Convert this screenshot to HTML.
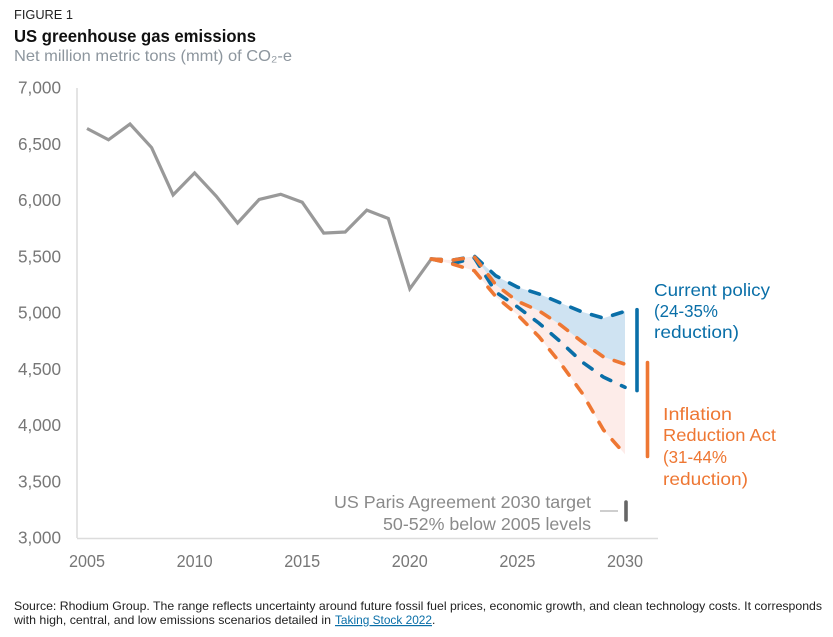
<!DOCTYPE html>
<html>
<head>
<meta charset="utf-8">
<style>
html,body{margin:0;padding:0;background:#fff;}
#wrap{position:relative;width:833px;height:637px;overflow:hidden;}
svg{position:absolute;left:0;top:0;}
text{font-family:"Liberation Sans",sans-serif;}
</style>
</head>
<body>
<div id="wrap">
<svg id="chart" width="833" height="637" viewBox="0 0 833 637">
  <text x="14" y="19" font-size="13" fill="#222" textLength="59" lengthAdjust="spacingAndGlyphs">FIGURE 1</text>
  <text x="14" y="42" font-size="17.5" font-weight="bold" fill="#111" textLength="242" lengthAdjust="spacingAndGlyphs">US greenhouse gas emissions</text>
  <text x="14" y="61" font-size="16" fill="#8d969e" textLength="278" lengthAdjust="spacingAndGlyphs">Net million metric tons (mmt) of CO₂-e</text>
  <g id="fills"></g>
  <g id="axes"></g>
  <g id="lines"></g>
  <g id="bars"></g>
  <text x="654" y="296" font-size="17.5" fill="#0a6fa8" textLength="116" lengthAdjust="spacingAndGlyphs">Current policy</text>
  <text x="654" y="317" font-size="17.5" fill="#0a6fa8" textLength="64" lengthAdjust="spacingAndGlyphs">(24-35%</text>
  <text x="654" y="338" font-size="17.5" fill="#0a6fa8" textLength="85" lengthAdjust="spacingAndGlyphs">reduction)</text>
  <text x="663" y="420" font-size="17.5" fill="#ee7733" textLength="69" lengthAdjust="spacingAndGlyphs">Inflation</text>
  <text x="663" y="441" font-size="17.5" fill="#ee7733" textLength="113" lengthAdjust="spacingAndGlyphs">Reduction Act</text>
  <text x="663" y="463" font-size="17.5" fill="#ee7733" textLength="64" lengthAdjust="spacingAndGlyphs">(31-44%</text>
  <text x="663" y="485" font-size="17.5" fill="#ee7733" textLength="85" lengthAdjust="spacingAndGlyphs">reduction)</text>
  <text x="591" y="508" font-size="17.5" fill="#8a8a8a" text-anchor="end" textLength="257" lengthAdjust="spacingAndGlyphs">US Paris Agreement 2030 target</text>
  <text x="591" y="530" font-size="17.5" fill="#8a8a8a" text-anchor="end" textLength="208" lengthAdjust="spacingAndGlyphs">50-52% below 2005 levels</text>
  <line x1="600" y1="511" x2="618" y2="511" stroke="#b0b0b0" stroke-width="1.2"></line>
  <text x="14" y="610" font-size="12" fill="#222" textLength="808" lengthAdjust="spacingAndGlyphs">Source: Rhodium Group. The range reflects uncertainty around future fossil fuel prices, economic growth, and clean technology costs. It corresponds</text>
  <text x="14" y="624" font-size="12" fill="#222" textLength="317" lengthAdjust="spacingAndGlyphs">with high, central, and low emissions scenarios detailed in</text>
  <text x="335" y="624" font-size="12" fill="#0a6fa8" text-decoration="underline" textLength="97" lengthAdjust="spacingAndGlyphs">Taking Stock 2022</text>
  <text x="432" y="624" font-size="12" fill="#222">.</text>
</svg>
</div>
<script>
var historyYears = [2005,2006,2007,2008,2009,2010,2011,2012,2013,2014,2015,2016,2017,2018,2019,2020,2021];
var historyValues = [6640,6540,6680,6470,6050,6245,6040,5800,6010,6055,5985,5710,5720,5915,5840,5215,5480];
var projectionYears = [2021,2022,2023,2024,2025,2026,2027,2028,2029,2030];
var currentHigh = [5480,5470,5505,5330,5230,5170,5090,5010,4955,5015];
var currentLow = [5480,5440,5490,5185,5055,4910,4745,4565,4430,4340];
var iraHigh = [5480,5470,5500,5250,5105,5020,4895,4745,4610,4545];
var iraLow = [5480,5435,5375,5145,4985,4790,4555,4290,3960,3745];
var yTicks = [3000,3500,4000,4500,5000,5500,6000,6500,7000];
var yTickLabels = ['3,000','3,500','4,000','4,500','5,000','5,500','6,000','6,500','7,000'];
var xTicks = [2005,2010,2015,2020,2025,2030];
var currentRange = [5030,4310];
var iraRange = [4560,3725];
var parisRange = [3320,3160];

var NS = 'http://www.w3.org/2000/svg';
function xScale(year){ return 87 + (year - 2005) * 21.52; }
function yScale(v){ return 538 - (v - 3000) * 0.1125; }
function make(tag, parent, attrs){
  var el = document.createElementNS(NS, tag);
  for (var k in attrs) el.setAttribute(k, attrs[k]);
  document.getElementById(parent).appendChild(el);
  return el;
}
function pts(years, vals){
  return years.map(function(y,i){ return xScale(y).toFixed(1)+','+yScale(vals[i]).toFixed(1); });
}
function band(hi, lo){
  return pts(projectionYears, hi).concat(pts(projectionYears, lo).reverse()).join(' ');
}

var fillIra = make('polygon','fills',{points:band(iraHigh, iraLow),fill:'#fdece9'});


var fillCur = make('polygon','fills',{points:band(currentHigh, iraHigh),fill:'#cfe3f2'});



var yAxis = make('line','axes',{x1:77,y1:88,x2:77,y2:538,stroke:'#dcdcdc','stroke-width':1.5});


var xAxis = make('line','axes',{x1:77,y1:538.5,x2:658,y2:538.5,stroke:'#dcdcdc','stroke-width':1.5});



yTicks.forEach(function(v,i){
  var t = make('text','axes',{x:61,y:yScale(v)+5.5,'text-anchor':'end','font-size':17.5,fill:'#777',textLength:43,lengthAdjust:'spacingAndGlyphs'});
  t.textContent = yTickLabels[i];
  
  
});
xTicks.forEach(function(v){
  var t = make('text','axes',{x:xScale(v),y:567,'text-anchor':'middle','font-size':17.5,fill:'#777',textLength:36,lengthAdjust:'spacingAndGlyphs'});
  t.textContent = v;
  
  
});

var histLine = make('polyline','lines',{points:pts(historyYears, historyValues).join(' '),fill:'none',stroke:'#999','stroke-width':3.2,'stroke-linejoin':'miter'});



function dash(vals, color){
  return make('polyline','lines',{points:pts(projectionYears, vals).join(' '),fill:'none',stroke:color,'stroke-width':3.6,'stroke-linecap':'round','stroke-dasharray':'10 12'});
}
var l1 = dash(currentHigh,'#0a6fa8');


var l2 = dash(currentLow,'#0a6fa8');


var l3 = dash(iraHigh,'#ee7733');


var l4 = dash(iraLow,'#ee7733');



function rangeBar(x, r, color, w){
  return make('line','bars',{x1:x,x2:x,y1:yScale(r[0]),y2:yScale(r[1]),stroke:color,'stroke-width':w,'stroke-linecap':'round'});
}
var b1 = rangeBar(637, currentRange, '#0a6fa8', 3.6);


var b2 = rangeBar(647.5, iraRange, '#ee7733', 3.6);


var b3 = rangeBar(626, parisRange, '#666', 3.6);


</script>
</body>
</html>
